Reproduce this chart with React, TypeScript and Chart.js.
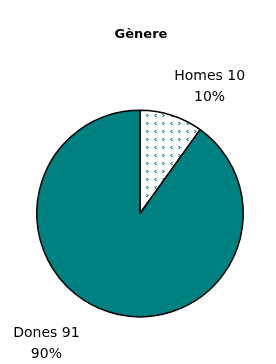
import React, { useEffect, useRef } from "react";
import { Chart, registerables } from "chart.js";

Chart.register(...registerables);

const titleText = "Gènere";
const categories = ["Homes", "Dones"];
const values = [10, 91];
const percentLabels = ["10%", "90%"];

function makePattern(): CanvasPattern | string {
  const c = document.createElement("canvas");
  c.width = 16;
  c.height = 16;
  const g = c.getContext("2d");
  if (!g) return "#ffffff";
  g.fillStyle = "#ffffff";
  g.fillRect(0, 0, 16, 16);
  g.fillStyle = "#4aa6a6";
  const chev = (x: number, y: number, right: boolean) => {
    if (right) {
      g.fillRect(x, y, 2, 1);
      g.fillRect(x + 1, y + 1, 2, 1);
      g.fillRect(x, y + 2, 2, 1);
    } else {
      g.fillRect(x + 1, y, 2, 1);
      g.fillRect(x, y + 1, 2, 1);
      g.fillRect(x + 1, y + 2, 2, 1);
    }
  };
  chev(2, 2, true);
  chev(10, 2, false);
  chev(2, 10, true);
  chev(10, 10, false);
  return g.createPattern(c, "repeat") || "#ffffff";
}

const labelPlugin = {
  id: "pieLabels",
  afterDraw(chart: any) {
    const ctx = chart.ctx;
    ctx.save();
    ctx.fillStyle = "#000";
    ctx.font = "bold 13px 'DejaVu Sans'";
    ctx.textAlign = "center";
    ctx.textBaseline = "middle";
    ctx.fillText(titleText, 141, 35);
    const meta = chart.getDatasetMeta(0);
    ctx.font = "14px 'DejaVu Sans'";
    meta.data.forEach((arc: any, i: number) => {
      const { x, y, startAngle, endAngle, outerRadius } = arc.getProps(
        ["x", "y", "startAngle", "endAngle", "outerRadius"],
        true
      );
      const mid = (startAngle + endAngle) / 2;
      const ex = x + Math.cos(mid) * outerRadius;
      const ey = y + Math.sin(mid) * outerRadius;
      const right = Math.cos(mid) >= 0;
      const cx = right ? ex + 38 : ex - 62;
      const cy = right ? ey - 39 : ey + 22;
      ctx.fillText(categories[i] + " " + values[i], cx, cy);
      ctx.fillText(percentLabels[i], cx, cy + 21);
    });
    ctx.restore();
  },
};

export default function App() {
  const ref = useRef<HTMLCanvasElement>(null);
  useEffect(() => {
    document.body.style.margin = "0";
    const canvas = ref.current;
    if (!canvas) return;
    const chart = new Chart(canvas, {
      type: "pie",
      data: {
        labels: categories,
        datasets: [
          {
            data: values,
            backgroundColor: [makePattern() as any, "#008080"],
            borderColor: "#000000",
            borderWidth: 1.5,
          },
        ],
      },
      options: {
        responsive: false,
        animation: false,
        layout: { padding: { left: 36, right: 32, top: 109, bottom: 46 } },
        plugins: {
          legend: { display: false },
          title: { display: false },
          tooltip: { enabled: false },
        },
      },
      plugins: [labelPlugin],
    });
    return () => chart.destroy();
  }, []);
  return (
    <div style={{ width: 276, height: 364, background: "#fff" }}>
      <canvas ref={ref} width={276} height={364} />
    </div>
  );
}
